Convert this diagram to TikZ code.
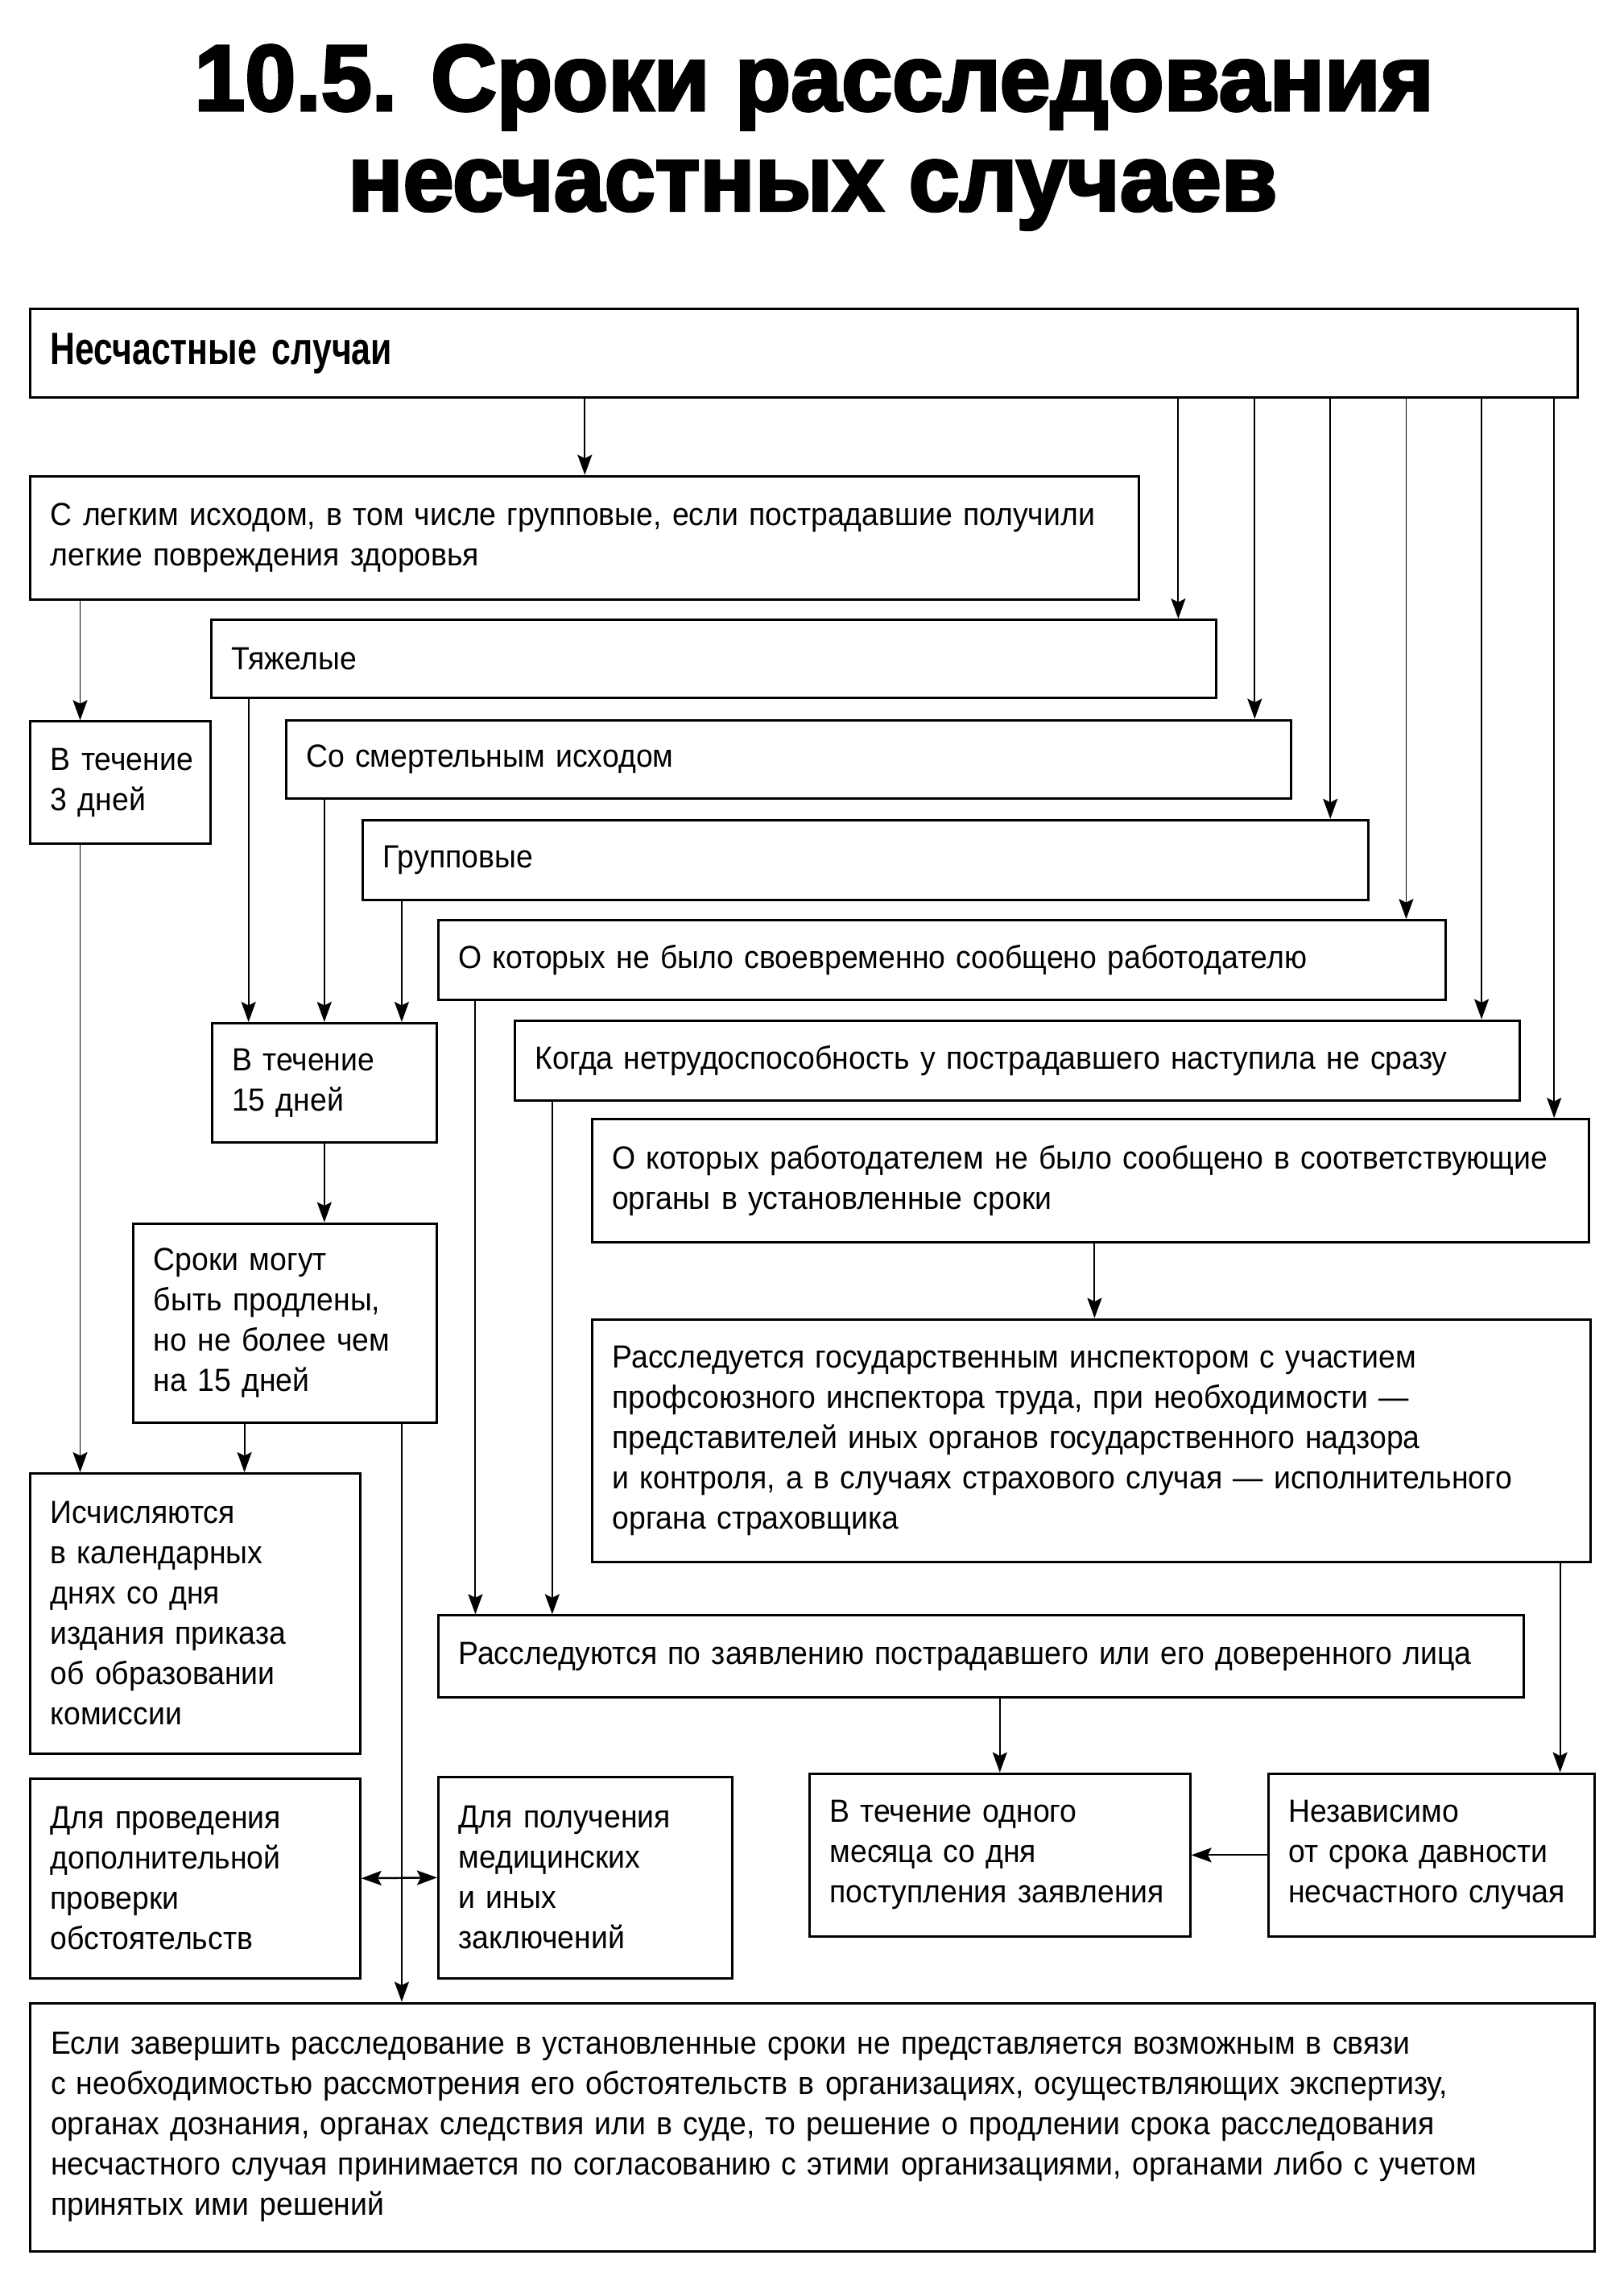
\documentclass[tikz,border=0pt]{standalone}
\usepackage{fontspec}
\setmainfont{Liberation Sans}[FakeStretch=0.94]
\newfontfamily\titlefont{Liberation Sans}[FakeStretch=0.975, BoldFeatures={FakeBold=3}]
\newfontfamily\narrowfont{Liberation Sans}[FakeStretch=0.76]
\usetikzlibrary{
  arrows.meta,  % стрелки Stealth
  positioning   % относительное размещение
}
\tikzset{
  box/.style 2 args={
    draw,
    line width=0.85pt,
    rectangle,
    inner xsep=2.5mm,
    inner ysep=0pt,
    text width=#1,
    minimum height=#2,
    align=left,
    font=\fontsize{11.3}{14.2}\selectfont
  },
  head box/.style 2 args={
    box={#1}{#2},
    font=\narrowfont\bfseries\fontsize{16}{18}\selectfont
  },
  conn/.style={
    -{Stealth[length=2.5mm, width=1.8mm, inset=0.45mm]},
    line width=0.55pt
  },
  both conn/.style={
    {Stealth[length=2.5mm, width=1.8mm, inset=0.45mm]}-{Stealth[length=2.5mm, width=1.8mm, inset=0.45mm]},
    line width=0.7pt
  },
  title line/.style={
    anchor=base,
    inner sep=0pt,
    font=\titlefont\bfseries\fontsize{33}{35}\selectfont
  }
}

\begin{document}
\begin{tikzpicture}[x=0.18mm, y=-0.18mm]
    \useasboundingbox (0,0) rectangle (1119,1568);

    % заголовок
    \node[title line] (T1) at (561,76)  {10.5. Сроки расследования};
    \node[title line] (T2) at (560,145) {несчастных случаев};

    % виды несчастных случаев (лесенка справа)
    \node[head box={186.9mm}{11mm}] (A) at (554,243.5) {Несчастные случаи};
    \node[box={132.5mm}{15.3mm}] (B) at (403,370.5)
      {С легким исходом, в том числе групповые, если пострадавшие получили\\легкие повреждения здоровья};
    \node[box={119.6mm}{9.7mm}] (C) at (492,454) {Тяжелые};
    \node[box={119.7mm}{9.7mm}] (D) at (543.5,523) {Со смертельным исходом};
    \node[box={119.7mm}{9.9mm}] (E) at (596.5,592.5) {Групповые};
    \node[box={119.9mm}{9.9mm}] (F) at (649,661.5) {О которых не было своевременно сообщено работодателю};
    \node[box={119.6mm}{9.9mm}] (G) at (701,730.5) {Когда нетрудоспособность у пострадавшего наступила не сразу};
    \node[box={118.7mm}{15.3mm}] (H) at (751.5,813.5)
      {О которых работодателем не было сообщено в соответствующие\\органы в установленные сроки};
    \node[box={118.8mm}{30.1mm}] (I) at (752,992.5)
      {Расследуется государственным инспектором с участием\\профсоюзного инспектора труда, при необходимости —\\представителей иных органов государственного надзора\\и контроля, а в случаях страхового случая — исполнительного\\органа страховщика};
    \node[box={129.6mm}{10.1mm}] (J) at (676,1141)
      {Расследуются по заявлению пострадавшего или его доверенного лица};

    % сроки (левая колонка)
    \node[box={17.3mm}{15.1mm}] (K) at (83,539) {\mbox{В течение}\\3 дней};
    \node[box={22.9mm}{14.8mm}] (L) at (223.5,746) {В течение\\15 дней};
    \node[box={32.6mm}{24.7mm}] (M) at (196.5,911.5)
      {Сроки могут\\быть продлены,\\но не более чем\\на 15 дней};
    \node[box={35.9mm}{34.7mm}] (N) at (134.5,1111.5)
      {Исчисляются\\в календарных\\днях со дня\\издания приказа\\об образовании\\комиссии};
    \node[box={35.9mm}{24.8mm}] (O) at (134.5,1294)
      {Для проведения\\дополнительной\\проверки\\обстоятельств};
    \node[box={31.5mm}{25mm}] (P) at (403.5,1293.5)
      {Для получения\\медицинских\\и иных\\заключений};
    \node[box={42.2mm}{20.2mm}] (Q) at (689,1278)
      {В течение одного\\месяца со дня\\поступления заявления};
    \node[box={35.5mm}{20.2mm}] (R) at (986.5,1278)
      {Независимо\\от срока давности\\несчастного случая};
    \node[box={189mm}{30.8mm}] (S) at (560,1465.5)
      {Если завершить расследование в установленные сроки не представляется возможным в связи\\с необходимостью рассмотрения его обстоятельств в организациях, осуществляющих экспертизу,\\органах дознания, органах следствия или в суде, то решение о продлении срока расследования\\несчастного случая принимается по согласованию с этими организациями, органами либо с учетом\\принятых ими решений};

    % точки входа и выхода линий
    \coordinate (cC) at ([xshift=-4.86mm]C.north east);
    \coordinate (cD) at ([xshift=-4.7mm]D.north east);
    \coordinate (cE) at ([xshift=-4.86mm]E.north east);
    \coordinate (cF) at ([xshift=-5mm]F.north east);
    \coordinate (cG) at ([xshift=-4.86mm]G.north east);
    \coordinate (cH) at ([xshift=-4.5mm]H.north east);
    \coordinate (cK) at ([xshift=6.3mm]K.north west);
    \coordinate (cL1) at ([xshift=4.7mm]L.north west);
    \coordinate (cL3) at ([xshift=-4.5mm]L.north east);
    \coordinate (cM) at ([xshift=13.9mm]M.south west);
    \coordinate (cF2) at ([xshift=4.75mm]F.south west);
    \coordinate (cG2) at ([xshift=4.77mm]G.south west);
    \coordinate (cH2) at ([xshift=0.5mm]H.south);
    \coordinate (cI) at ([xshift=-3.9mm]I.south east);

    % от общего блока вниз
    \draw[conn] (A.south -| B.north) -- (B.north);
    \draw[conn] (A.south -| cC) -- (cC);
    \draw[conn] (A.south -| cD) -- (cD);
    \draw[conn] (A.south -| cE) -- (cE);
    \draw[conn] (A.south -| cF) -- (cF);
    \draw[conn] (A.south -| cG) -- (cG);
    \draw[conn] (A.south -| cH) -- (cH);

    % легкие: 3 дня
    \draw[conn] (B.south -| cK) -- (cK);
    \draw[conn] (K.south -| cK) -- (N.north -| cK);

    % тяжелые, смертельные, групповые: 15 дней
    \draw[conn] (C.south -| cL1) -- (cL1);
    \draw[conn] (D.south -| L.north) -- (L.north);
    \draw[conn] (E.south -| cL3) -- (cL3);
    \draw[conn] (L.south) -- (L.south |- M.north);
    \draw[conn] (cM) -- (N.north -| cM);
    \draw[conn] (M.south -| cL3) -- (S.north -| cL3);
    \draw[both conn] (O.east) -- (P.west);

    % по заявлению пострадавшего
    \draw[conn] (cF2) -- (J.north -| cF2);
    \draw[conn] (cG2) -- (J.north -| cG2);
    \draw[conn] (J.south -| Q.north) -- (Q.north);

    % госинспектор
    \draw[conn] (cH2) -- (I.north -| cH2);
    \draw[conn] (cI) -- (R.north -| cI);
    \draw[conn] (R.west) -- (Q.east);

  \end{tikzpicture}
\end{document}
